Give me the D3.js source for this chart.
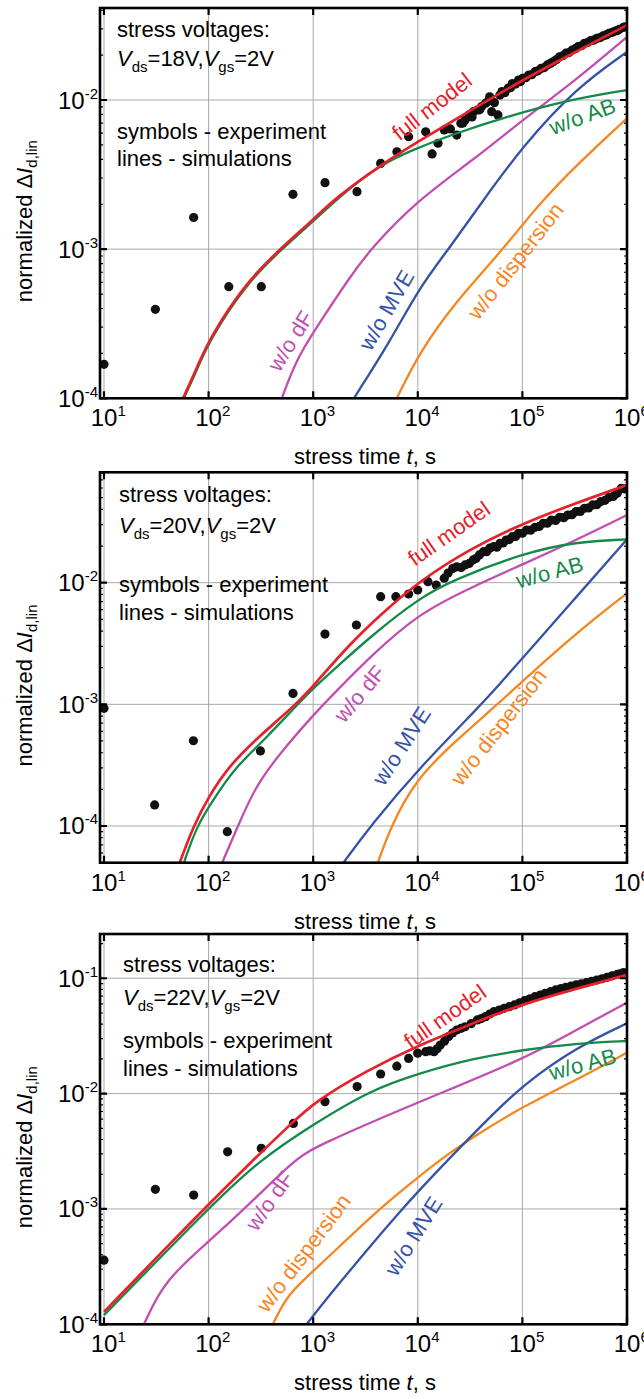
<!DOCTYPE html>
<html>
<head>
<meta charset="utf-8">
<script src="https://cdn.jsdelivr.net/npm/d3@7"></script>
<style>
  body { margin: 0; background: #fff; }
  text { font-family: "Liberation Sans", Arial, sans-serif; }
</style>
</head>
<body>
<div id="chart"></div>
<script>
// ---- data: [stress time in s, normalized dId,lin] ----
const xTickValues = [1e1, 1e2, 1e3, 1e4, 1e5, 1e6]
const xTickExp = ["1", "2", "3", "4", "5", "6"]
const vdsValues = ["18V", "20V", "22V"]

// panel 1, Vds = 18 V
const p1Red = [[57,1e-4],[78,1.62e-4],[100,2.46e-4],[224,5.9e-4],[480,1e-3],[1035,1.61e-3],[1620,2.19e-3],[4400,3.66e-3],[10000,5.25e-3],[30000,8.3e-3],[100000,0.0136],[300000,0.0205],[1e6,0.0318]]
const p1Green = [[58,1e-4],[79,1.6e-4],[101,2.42e-4],[226,5.8e-4],[485,9.8e-4],[1040,1.58e-3],[1620,2.1e-3],[2680,2.85e-3],[4610,3.72e-3],[8710,4.6e-3],[21600,5.9e-3],[70000,7.73e-3],[272000,0.01],[1e6,0.01167]]
const p1Magenta = [[501,1e-4],[689,1.81e-4],[1035,2.87e-4],[2240,6.5e-4],[3520,1e-3],[10000,2.14e-3],[33900,3.96e-3],[100000,7.34e-3],[324000,0.0136],[1e6,0.0265]]
const p1Blue = [[2450,1e-4],[5540,2.46e-4],[10250,5.47e-4],[19700,1e-3],[42500,2.14e-3],[100000,4.86e-3],[324000,0.012],[1e6,0.021]]
const p1Orange = [[6300,1e-4],[10250,2e-4],[21600,4.2e-4],[53300,8.5e-4],[100000,1.45e-3],[145000,2e-3],[316000,3.57e-3],[1e6,7.55e-3]]
const p1Exp = [[10,1.69e-4],[31,3.95e-4],[72,1.63e-3],[156,5.6e-4],[319,5.6e-4],[641,2.33e-3],[1297,2.79e-3],[2624,2.43e-3],[4416,3.76e-3],[6310,4.5e-3],[8170,5.68e-3],[11900,6.12e-3],[13700,4.35e-3],[15600,5.13e-3],[17900,6.3e-3],[20500,6.4e-3],[23600,5.82e-3],[25800,6.98e-3],[27000,7.0e-3],[28300,7.34e-3],[31000,7.94e-3],[33000,7.7e-3],[34000,8.35e-3],[37100,8.57e-3],[39000,8.6e-3],[40600,9.02e-3],[44500,9.51e-3],[47000,9.8e-3],[48700,0.0105],[50900,8.35e-3],[54000,9.6e-3],[58300,7.94e-3],[61000,0.0108],[63800,0.0114],[68000,0.0112],[73100,0.012],[77000,0.0121],[80100,0.0129],[86000,0.0128],[91800,0.0136],[96000,0.0133],[100500,0.014],[108000,0.0141],[115000,0.0147],[123000,0.0148],[132000,0.0155],[141000,0.0157],[151000,0.0163],[162000,0.0165],[173000,0.0172],[185000,0.0176],[198000,0.0181],[212000,0.0187],[227000,0.0195],[243000,0.0198],[260000,0.0206],[279000,0.0208],[298000,0.0216],[320000,0.0221],[341000,0.0228],[370000,0.0232],[392000,0.024],[420000,0.0243],[448000,0.025],[480000,0.0252],[513000,0.0259],[550000,0.0262],[589000,0.0269],[630000,0.0273],[673000,0.028],[720000,0.0284],[771000,0.029],[810000,0.0292],[843000,0.0298],[927000,0.0307],[960000,0.031]]

// panel 2, Vds = 20 V
const p2Red = [[53,5e-5],[71.6,1e-4],[100,1.74e-4],[158,3.16e-4],[316,5.62e-4],[686,1e-3],[1000,1.41e-3],[2240,3.16e-3],[5010,6.03e-3],[10250,0.0102],[31600,0.0191],[102000,0.0308],[316000,0.0447],[1e6,0.0635]]
const p2Green = [[58.2,5e-5],[76.9,1e-4],[112,1.66e-4],[178,3.02e-4],[355,5.25e-4],[946,1.31e-3],[1700,2.04e-3],[3520,3.6e-3],[10250,7.45e-3],[21600,0.0105],[102000,0.0175],[324000,0.0217],[1e6,0.0227]]
const p2Magenta = [[135,5e-5],[191,1e-4],[279,2.1e-4],[480,3.95e-4],[1035,8.43e-4],[1700,1.31e-3],[3520,2.47e-3],[10250,5.62e-3],[34000,9.33e-3],[100000,0.0141],[325000,0.0224],[1e6,0.036]]
const p2Blue = [[1950,5e-5],[3520,1e-4],[10250,2.98e-4],[40600,1e-3],[57000,1.38e-3],[100000,2.39e-3],[325000,7.57e-3],[1e6,0.0227]]
const p2Orange = [[4150,5e-5],[5540,1e-4],[9530,2.39e-4],[21600,4.79e-4],[58000,1e-3],[100000,1.55e-3],[325000,3.84e-3],[1e6,8.18e-3]]
const p2Exp = [[10,9.27e-4],[30.5,1.49e-4],[71.6,5.02e-4],[151,8.97e-5],[313,4.14e-4],[641,1.23e-3],[1297,3.78e-3],[2590,4.49e-3],[4416,7.67e-3],[6170,7.67e-3],[8170,8.07e-3],[9980,8.71e-3],[12500,0.0102],[15000,9.57e-3],[17900,0.0109],[19500,0.012],[21600,0.0131],[23600,0.0135],[26000,0.0133],[28300,0.014],[31000,0.0144],[34000,0.0154],[36000,0.0158],[38800,0.0169],[42500,0.018],[45500,0.018],[48700,0.0192],[53300,0.0198],[57000,0.0196],[61100,0.0211],[65500,0.0212],[70000,0.0224],[75000,0.0226],[80100,0.0239],[86000,0.024],[91800,0.0255],[100000,0.0255],[110000,0.0271],[120000,0.027],[132000,0.0285],[145000,0.029],[158000,0.0308],[173000,0.0308],[189000,0.0327],[208000,0.0325],[227000,0.0345],[249000,0.0342],[272000,0.036],[298000,0.0362],[326000,0.0384],[358000,0.0385],[392000,0.0409],[430000,0.0412],[469000,0.0436],[515000,0.0438],[562000,0.0464],[617000,0.0475],[673000,0.0504],[740000,0.0512],[807000,0.0543],[883000,0.0597],[950000,0.059]]

// panel 3, Vds = 22 V
const p3Red = [[10,1.28e-4],[89.8,1e-3],[266,2.65e-3],[574,5.16e-3],[1035,8.51e-3],[3220,0.0158],[10250,0.0264],[34000,0.0407],[100000,0.0607],[1e6,0.107]]
const p3Green = [[10,1.2e-4],[98,1e-3],[305,2.65e-3],[1035,5.52e-3],[3520,0.0107],[10250,0.015],[34000,0.0202],[100000,0.0239],[325000,0.0273],[1e6,0.0286]]
const p3Magenta = [[24.1,1e-4],[37.9,2.42e-4],[104,5.37e-4],[233,1.05e-3],[658,2.65e-3],[1035,3.47e-3],[10250,8.5e-3],[100000,0.0196],[325000,0.0356],[1e6,0.0615]]
const p3Blue = [[865,1e-4],[1420,1.78e-4],[6940,1e-3],[20600,2.82e-3],[53300,6.76e-3],[100000,0.01175],[325000,0.0251],[1e6,0.0407]]
const p3Orange = [[411,1e-4],[574,1.85e-4],[1035,2.95e-4],[4220,1e-3],[10250,1.9e-3],[15700,2.6e-3],[34000,4.23e-3],[100000,7.69e-3],[325000,0.0131],[1e6,0.0227]]
const p3Exp = [[10,3.6e-4],[31,1.48e-3],[72,1.32e-3],[152,3.13e-3],[319,3.36e-3],[647,5.52e-3],[1297,8.51e-3],[2630,0.0115],[4416,0.0148],[6300,0.0173],[8170,0.0202],[9980,0.0224],[11900,0.0231],[13000,0.0235],[14300,0.0231],[15300,0.0245],[16400,0.0264],[18000,0.0285],[19700,0.0312],[21500,0.0335],[23600,0.0356],[26000,0.0368],[28300,0.038],[32500,0.0405],[37100,0.0435],[40500,0.0447],[44500,0.0465],[48700,0.049],[53300,0.0513],[60000,0.053],[66800,0.0549],[75000,0.0567],[83900,0.0587],[94000,0.0612],[105000,0.0639],[118000,0.0663],[132000,0.0692],[148000,0.0715],[165000,0.0741],[186000,0.0765],[208000,0.0792],[233000,0.0815],[260000,0.0836],[292000,0.0855],[326000,0.0875],[365000,0.0895],[409000,0.0916],[458000,0.094],[513000,0.0966],[575000,0.099],[644000,0.102],[720000,0.105],[807000,0.108],[870000,0.11],[927000,0.112]]

const seriesNames = ["orange", "blue", "magenta", "green", "red"]
const colors = {red: "#e8202a", green: "#13894a", magenta: "#c14fb2", blue: "#3652a6", orange: "#f6861f"}
const labelText = {red: "full model", green: "w/o AB", magenta: "w/o dF", blue: "w/o MVE", orange: "w/o dispersion"}

// ---- layout ----
const W = 644, H = 1399
const left = 100, right = 627
const panels = [
  {top: 8, bottom: 398.3, yDomain: [1e-4, 0.0414], yTicks: [1e-4, 1e-3, 1e-2], yExp: ["-4", "-3", "-2"],
   curves: {red: p1Red, green: p1Green, magenta: p1Magenta, blue: p1Blue, orange: p1Orange}, exp: p1Exp,
   textX: 117, textY: [29, 58, 131, 158],
   labels: {red: [433, 108, -38], green: [583, 118, -20], magenta: [292, 342, -58], blue: [388, 311, -60], orange: [517, 262, -52]}},
  {top: 472.3, bottom: 862.7, yDomain: [4.99e-5, 0.0808], yTicks: [1e-4, 1e-3, 1e-2], yExp: ["-4", "-3", "-2"],
   curves: {red: p2Red, green: p2Green, magenta: p2Magenta, blue: p2Blue, orange: p2Orange}, exp: p2Exp,
   textX: 119, textY: [30, 61, 120, 148],
   labels: {red: [450, 535, -35], green: [550, 574, -15], magenta: [361, 695, -50], blue: [403, 747, -57], orange: [500, 728, -52]}},
  {top: 934, bottom: 1324.3, yDomain: [1e-4, 0.242], yTicks: [1e-4, 1e-3, 1e-2, 1e-1], yExp: ["-4", "-3", "-2", "-1"],
   curves: {red: p3Red, green: p3Green, magenta: p3Magenta, blue: p3Blue, orange: p3Orange}, exp: p3Exp,
   textX: 123, textY: [38, 71, 114, 142],
   labels: {red: [446, 1018, -35], green: [583, 1066, -15], magenta: [271, 1202, -55], blue: [415, 1237, -58], orange: [305, 1254, -53]}}
]

const svg = d3.select("#chart").append("svg")
  .attr("width", W)
  .attr("height", H)
  .attr("viewBox", `0 0 ${W} ${H}`)

svg.append("rect").attr("width", W).attr("height", H).attr("fill", "#fff")

const x = d3.scaleLog().domain([9.16, 1e6]).range([left, right])

panels.forEach((p, i) => {
  const y = d3.scaleLog().domain(p.yDomain).range([p.bottom, p.top])
  const g = svg.append("g")

  g.append("clipPath").attr("id", "clip" + i)
    .append("rect")
    .attr("x", left).attr("y", p.top)
    .attr("width", right - left).attr("height", p.bottom - p.top)

  // grid
  g.selectAll(".gx").data(xTickValues).join("line")
    .attr("x1", d => x(d)).attr("x2", d => x(d))
    .attr("y1", p.top).attr("y2", p.bottom)
    .attr("stroke", "#a8a8a8").attr("stroke-width", 1)
  g.selectAll(".gy").data(p.yTicks).join("line")
    .attr("x1", left).attr("x2", right)
    .attr("y1", d => y(d)).attr("y2", d => y(d))
    .attr("stroke", "#a8a8a8").attr("stroke-width", 1)

  const plot = g.append("g").attr("clip-path", `url(#clip${i})`)

  // experiment symbols
  plot.selectAll("circle").data(p.exp).join("circle")
    .attr("cx", d => x(d[0])).attr("cy", d => y(d[1]))
    .attr("r", 4.6).attr("fill", "#111")

  // simulations
  const line = d3.line().x(d => x(d[0])).y(d => y(d[1])).curve(d3.curveBasis)
  seriesNames.forEach(s => {
    plot.append("path").datum(p.curves[s])
      .attr("d", line)
      .attr("fill", "none")
      .attr("stroke", colors[s])
      .attr("stroke-width", s === "red" ? 2.7 : 2.3)
  })

  // curve labels
  seriesNames.forEach(s => {
    const [lx, ly, a] = p.labels[s]
    g.append("text")
      .attr("transform", `translate(${lx},${ly}) rotate(${a})`)
      .attr("text-anchor", "middle")
      .attr("dominant-baseline", "middle")
      .attr("font-size", 22)
      .attr("fill", colors[s])
      .text(labelText[s])
  })

  // minor ticks left / right
  const minor = []
  const lo = Math.floor(Math.log10(p.yDomain[0])), hi = Math.ceil(Math.log10(p.yDomain[1]))
  for (let e = lo; e < hi; e++) for (let m = 2; m <= 9; m++) {
    const v = m * Math.pow(10, e)
    if (v > p.yDomain[0] && v < p.yDomain[1]) minor.push(v)
  }
  g.selectAll(".mt").data(minor).join("path")
    .attr("d", d => `M${left},${y(d)}h3M${right},${y(d)}h-3`)
    .attr("stroke", "#000").attr("stroke-width", 1.2)
  g.selectAll(".yt").data(p.yTicks).join("path")
    .attr("d", d => `M${left},${y(d)}h7M${right},${y(d)}h-7`)
    .attr("stroke", "#000").attr("stroke-width", 2.2)
  g.selectAll(".xt").data(xTickValues).join("path")
    .attr("d", d => `M${x(d)},${p.bottom}v-7M${x(d)},${p.top}v7`)
    .attr("stroke", "#000").attr("stroke-width", 2.2)

  // frame
  g.append("rect")
    .attr("x", left).attr("y", p.top)
    .attr("width", right - left).attr("height", p.bottom - p.top)
    .attr("fill", "none").attr("stroke", "#000").attr("stroke-width", 2.6)

  // y tick labels
  p.yTicks.forEach((v, k) => {
    const t = g.append("text")
      .attr("x", 98).attr("y", y(v) + 8.5)
      .attr("text-anchor", "end")
      .attr("font-size", 24)
    t.append("tspan").text("10")
    t.append("tspan").attr("dy", -10).attr("font-size", 15).text(p.yExp[k])
  })

  // x tick labels
  xTickValues.forEach((v, k) => {
    g.append("text")
      .attr("x", x(v)).attr("y", p.bottom + 28)
      .attr("text-anchor", "middle")
      .attr("font-size", 24)
      .text("10")
    g.append("text")
      .attr("x", x(v) + 13.5).attr("y", p.bottom + 18)
      .attr("font-size", 15)
      .text(xTickExp[k])
  })

  // x title
  const xt = g.append("text")
    .attr("x", 365).attr("y", p.bottom + 66)
    .attr("text-anchor", "middle")
    .attr("font-size", 22)
  xt.append("tspan").text("stress time ")
  xt.append("tspan").attr("font-style", "italic").text("t")
  xt.append("tspan").text(", s")

  // y title
  const cy = (p.top + p.bottom) / 2 + 18
  const yt = g.append("text")
    .attr("transform", `translate(32,${cy}) rotate(-90)`)
    .attr("text-anchor", "middle")
    .attr("font-size", 22)
  yt.append("tspan").text("normalized \u0394")
  yt.append("tspan").attr("font-style", "italic").text("I")
  yt.append("tspan").attr("dy", 5).attr("font-size", 15).text("d,lin")

  // stress conditions text
  const tx = p.textX
  g.append("text").attr("x", tx).attr("y", p.top + p.textY[0]).attr("font-size", 22).text("stress voltages:")
  const vt = g.append("text").attr("x", tx).attr("y", p.top + p.textY[1]).attr("font-size", 22)
  vt.append("tspan").attr("font-style", "italic").text("V")
  vt.append("tspan").attr("dy", 6).attr("font-size", 15).text("ds")
  vt.append("tspan").attr("dy", -6).text("=" + vdsValues[i] + ",")
  vt.append("tspan").attr("font-style", "italic").text("V")
  vt.append("tspan").attr("dy", 6).attr("font-size", 15).text("gs")
  vt.append("tspan").attr("dy", -6).text("=2V")
  g.append("text").attr("x", tx).attr("y", p.top + p.textY[2]).attr("font-size", 22).text("symbols - experiment")
  g.append("text").attr("x", tx).attr("y", p.top + p.textY[3]).attr("font-size", 22).text("lines - simulations")
})
</script>
</body>
</html>
